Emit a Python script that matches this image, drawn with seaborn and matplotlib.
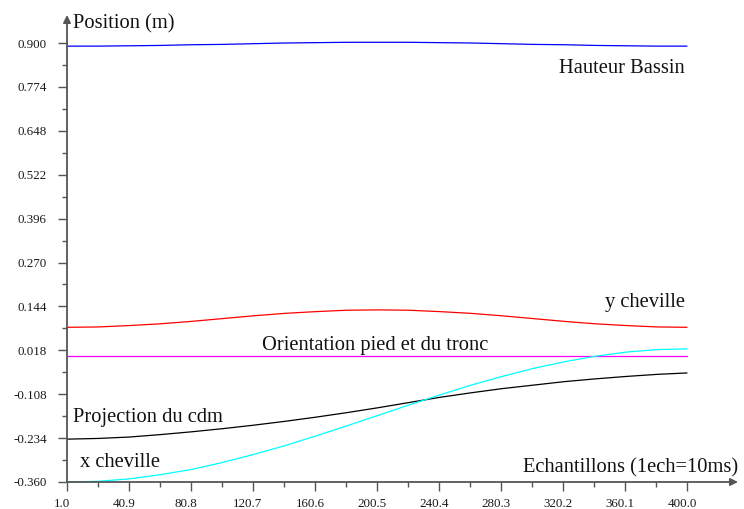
import matplotlib
matplotlib.use('Agg')
import matplotlib.pyplot as plt
import matplotlib.transforms as mtransforms
import seaborn as sns
import pandas as pd

# samples (1 ech = 10 ms)
samples = [1, 21, 41, 61, 81, 101, 121, 141, 161, 181, 201,
           221, 241, 261, 281, 301, 321, 341, 361, 381, 400]

hauteur_bassin = [0.891, 0.891, 0.892, 0.893, 0.895, 0.896, 0.898, 0.900, 0.901, 0.902, 0.902,
                  0.902, 0.901, 0.900, 0.898, 0.896, 0.895, 0.893, 0.892, 0.891, 0.891]
y_cheville = [0.084, 0.085, 0.089, 0.094, 0.101, 0.109, 0.117, 0.124, 0.129, 0.133, 0.134,
              0.133, 0.129, 0.124, 0.117, 0.109, 0.101, 0.094, 0.089, 0.085, 0.084]
orientation = [0.002] * 21
projection_cdm = [-0.237, -0.235, -0.231, -0.224, -0.216, -0.207, -0.197, -0.186, -0.174, -0.161, -0.147,
                  -0.132, -0.117, -0.104, -0.092, -0.082, -0.072, -0.064, -0.057, -0.051, -0.047]
x_cheville = [-0.360, -0.358, -0.351, -0.339, -0.324, -0.304, -0.281, -0.256, -0.228, -0.199, -0.169,
              -0.139, -0.110, -0.082, -0.057, -0.034, -0.015, 0.001, 0.013, 0.020, 0.022]

x_ticks = [1.0, 40.9, 80.8, 120.7, 160.6, 200.5, 240.4, 280.3, 320.2, 360.1, 400.0]
y_ticks = [-0.360, -0.234, -0.108, 0.018, 0.144, 0.270, 0.396, 0.522, 0.648, 0.774, 0.900]

series = [
    ('Hauteur Bassin', hauteur_bassin, '#0000ff'),
    ('y cheville', y_cheville, '#ff0000'),
    ('Orientation pied et du tronc', orientation, '#ff00ff'),
    ('Projection du cdm', projection_cdm, '#000000'),
    ('x cheville', x_cheville, '#00ffff'),
]

sns.set_style('white')
plt.rcParams['font.family'] = ['Liberation Serif', 'DejaVu Serif']

W, H = 744, 509
fig = plt.figure(figsize=(W / 100, H / 100), dpi=100)
ax = fig.add_axes([67 / W, 27 / H, 620 / W, 439 / H])

for name, vals, col in series:
    df = pd.DataFrame({'ech': samples, 'pos': vals})
    sns.lineplot(data=df, x='ech', y='pos', color=col, lw=0.9, ax=ax)
for ln in ax.lines:
    ln.set_clip_on(False)

ax.set_xlim(1, 400)
ax.set_ylim(-0.360, 0.900)
ax.set_xlabel('')
ax.set_ylabel('')

axis_col = '#555555'
ax.set_xticks(x_ticks)
ax.set_xticklabels([f'{v:.1f}' for v in x_ticks])
ax.set_yticks(y_ticks)
ax.set_yticklabels([f'{v:.3f}' for v in y_ticks])
ax.set_xticks([(a + b) / 2 for a, b in zip(x_ticks[:-1], x_ticks[1:])], minor=True)
ax.set_yticks([(a + b) / 2 for a, b in zip(y_ticks[:-1], y_ticks[1:])], minor=True)
ax.tick_params(which='major', direction='out', length=6.5, width=1, color=axis_col,
               labelsize=9.4, labelcolor='#1a1a1a')
ax.tick_params(which='minor', direction='out', length=3.5, width=1, color=axis_col)
ax.tick_params(axis='y', which='major', pad=8)
ax.tick_params(axis='x', which='major', pad=5)
ax.tick_params(left=True, bottom=True, which='both')

# scilab style: x labels slightly shifted left
off = mtransforms.ScaledTranslation(-5 / 100, 0, fig.dpi_scale_trans)
for lab in ax.get_xticklabels():
    lab.set_transform(lab.get_transform() + off)

for s in ax.spines.values():
    s.set_visible(False)

arrow = dict(arrowstyle='-|>', color=axis_col, lw=1.3, mutation_scale=11, shrinkA=0, shrinkB=0)
ax.annotate('', xy=(0, (482 - 15) / 439), xytext=(0, 0), xycoords='axes fraction',
            textcoords='axes fraction', arrowprops=arrow, annotation_clip=False)
ax.annotate('', xy=((738 - 67) / 620, 0), xytext=(0, 0), xycoords='axes fraction',
            textcoords='axes fraction', arrowprops=arrow, annotation_clip=False)


def label(txt, x, y):
    fig.text(x / W, 1 - y / H, txt, fontsize=14.8, color='#111111', ha='left', va='baseline')


label('Position (m)', 73, 28)
label('Echantillons (1ech=10ms)', 523, 472)
label('Hauteur Bassin', 559, 73)
label('y cheville', 605, 307)
label('Orientation pied et du tronc', 262, 350)
label('Projection du cdm', 73, 422)
label('x cheville', 80, 467)

fig.savefig('out.png', dpi=100)
